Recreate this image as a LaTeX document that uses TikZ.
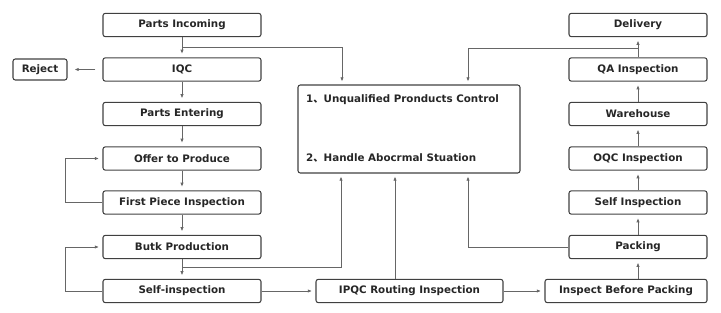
\documentclass[tikz,border=0pt]{standalone}
\usepackage{fontspec}
\setmainfont{DejaVu Sans}
\newfontfamily\cjk{Noto Sans CJK SC}
\usetikzlibrary{arrows.meta}

\begin{document}
\begin{tikzpicture}[x=0.03cm,y=-0.03cm,
  box/.style={draw=black!75,line width=0.9pt,rounded corners=2pt,minimum height=0.7cm,
    inner sep=0pt,font=\bfseries\fontsize{8.8}{10}\selectfont,text=black!85},
  lbox/.style={box,minimum width=4.74cm},
  rbox/.style={box,minimum width=4.14cm},
  txt/.style={anchor=west,inner sep=0pt,font=\bfseries\fontsize{8.8}{10}\selectfont,text=black!85},
  flow/.style={draw=black!60,line width=0.6pt,-{Latex[length=3.5pt,width=2.8pt]},shorten >=3pt}]
  \useasboundingbox (0,0) rectangle (721,313);

  % left column
  \node[lbox] (incoming) at (182,25)    {Parts Incoming};
  \node[lbox] (iqc)      at (182,69.5)  {IQC};
  \node[box,minimum width=1.62cm,minimum height=0.63cm] (reject) at (40,69.5) {Reject};
  \node[lbox] (entering) at (182,114)   {Parts Entering};
  \node[lbox] (offer)    at (182,158.5) {Offer to Produce};
  \node[lbox] (first)    at (182,202.5) {First Piece Inspection};
  \node[lbox] (bulk)     at (182,247)   {Butk Production};
  \node[lbox] (selfleft) at (182,291)   {Self-inspection};

  % control box
  \node[box,minimum width=6.66cm,minimum height=2.64cm] (control) at (409,129) {};
  \node[txt] (ctrla) at (306,100) {1{\cjk 、}Unqualified Pronducts Control};
  \node[txt] (ctrlb) at (306,158) {2{\cjk 、}Handle Abocrmal Stuation};

  % bottom row
  \node[box,minimum width=5.61cm] (ipqc)  at (409.5,291) {IPQC Routing Inspection};
  \node[box,minimum width=4.86cm] (before) at (626,291)  {Inspect Before Packing};

  % right column
  \node[rbox] (delivery)  at (638,25)    {Delivery};
  \node[rbox] (qa)        at (638,69.5)  {QA Inspection};
  \node[rbox] (warehouse) at (638,114)   {Warehouse};
  \node[rbox] (oqc)       at (638,158.5) {OQC Inspection};
  \node[rbox] (selfright) at (638,202.5) {Self Inspection};
  \node[rbox] (packing)   at (638,247)   {Packing};

  % branch points
  \coordinate (split1) at (182,47);
  \coordinate (split2) at (182,267);
  \coordinate (split3) at (638,48);
  \coordinate (topa) at (342,85);
  \coordinate (topb) at (468,85);
  \coordinate (bota) at (341,173);
  \coordinate (botb) at (395,173);
  \coordinate (botc) at (468,173);
  \coordinate (loopa) at (65,0);

  % left flow
  \draw[flow] (incoming) -- (iqc);
  \draw[flow,shorten <=6pt,shorten >=6pt] (iqc) -- (reject);
  \draw[flow] (iqc) -- (entering);
  \draw[flow] (entering) -- (offer);
  \draw[flow] (offer) -- (first);
  \draw[flow] (first) -- (bulk);
  \draw[flow] (bulk) -- (selfleft);
  \draw[flow] (first.west) -- (first.west -| loopa) |- (offer.west);
  \draw[flow] (selfleft.west) -- (selfleft.west -| loopa) |- (bulk.west);
  \draw[flow] (split1) -| (topa);
  \draw[flow] (split2) -| (bota);

  % bottom flow
  \draw[flow] (selfleft) -- (ipqc);
  \draw[flow] (ipqc.north -| botb) -- (botb);
  \draw[flow] (ipqc) -- (before);

  % right flow
  \draw[flow] (before.north -| packing) -- (packing);
  \draw[flow] (packing) -- (selfright);
  \draw[flow] (selfright) -- (oqc);
  \draw[flow] (oqc) -- (warehouse);
  \draw[flow] (warehouse) -- (qa);
  \draw[flow] (qa) -- (delivery);
  \draw[flow] (packing.west) -| (botc);
  \draw[flow] (split3) -| (topb);
\end{tikzpicture}
\end{document}
